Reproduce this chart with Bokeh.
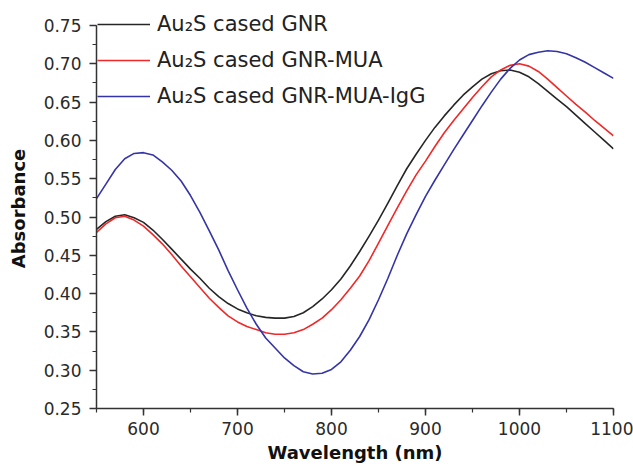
from bokeh.plotting import figure
from bokeh.models import Legend, LegendItem, SingleIntervalTicker, PrintfTickFormatter
from bokeh.embed import file_html
from bokeh.resources import INLINE

wavelength = list(range(550, 1101, 10))

gnr = [0.484, 0.494, 0.501, 0.503, 0.499, 0.493, 0.483, 0.471, 0.458, 0.445,
       0.432, 0.420, 0.407, 0.396, 0.387, 0.380, 0.375, 0.371, 0.369, 0.368,
       0.368, 0.370, 0.375, 0.383, 0.393, 0.405, 0.419, 0.436, 0.455, 0.475,
       0.496, 0.518, 0.541, 0.563, 0.582, 0.600, 0.617, 0.632, 0.646, 0.659,
       0.670, 0.680, 0.687, 0.691, 0.692, 0.689, 0.683, 0.674, 0.664, 0.654,
       0.644, 0.633, 0.622, 0.611, 0.600, 0.589]

gnr_mua = [0.480, 0.491, 0.499, 0.501, 0.496, 0.488, 0.477, 0.465, 0.451, 0.436,
           0.422, 0.408, 0.394, 0.382, 0.371, 0.363, 0.357, 0.353, 0.349, 0.347,
           0.347, 0.349, 0.353, 0.360, 0.368, 0.379, 0.392, 0.407, 0.423, 0.443,
           0.466, 0.489, 0.512, 0.534, 0.555, 0.573, 0.592, 0.610, 0.626, 0.641,
           0.656, 0.670, 0.683, 0.692, 0.698, 0.700, 0.697, 0.690, 0.680, 0.669,
           0.658, 0.647, 0.637, 0.626, 0.616, 0.606]

gnr_mua_igg = [0.524, 0.543, 0.562, 0.576, 0.583, 0.584, 0.581, 0.572, 0.561, 0.547,
               0.528, 0.506, 0.482, 0.457, 0.430, 0.405, 0.381, 0.360, 0.342, 0.329,
               0.316, 0.306, 0.298, 0.295, 0.296, 0.301, 0.311, 0.326, 0.344, 0.366,
               0.392, 0.420, 0.450, 0.478, 0.503, 0.527, 0.548, 0.568, 0.588, 0.607,
               0.626, 0.645, 0.663, 0.680, 0.694, 0.705, 0.712, 0.715, 0.717, 0.716,
               0.713, 0.708, 0.702, 0.695, 0.688, 0.681]

labels = ["Au\u2082S cased GNR", "Au\u2082S cased GNR-MUA", "Au\u2082S cased GNR-MUA-IgG"]
colors = ["#262626", "#f02828", "#3434a8"]

FONT = "DejaVu Sans"

p = figure(width=633, height=467, x_range=(550, 1100), y_range=(0.25, 0.7722),
           output_backend="svg", toolbar_location=None,
           min_border_left=96, min_border_right=20, min_border_top=8, min_border_bottom=59)
p.xgrid.visible = False
p.ygrid.visible = False
p.outline_line_color = None
p.background_fill_color = "white"
p.border_fill_color = "white"

renderers = []
for ys, c in zip([gnr, gnr_mua, gnr_mua_igg], colors):
    r = p.line(wavelength, ys, line_color=c, line_width=1.6, line_join="round")
    renderers.append(r)

p.xaxis.ticker = SingleIntervalTicker(interval=100, num_minor_ticks=2)
p.yaxis.ticker = SingleIntervalTicker(interval=0.05, num_minor_ticks=2)
p.yaxis.formatter = PrintfTickFormatter(format="%.2f")
p.yaxis.bounds = (0.25, 0.75)

for ax in [p.xaxis[0], p.yaxis[0]]:
    ax.axis_line_color = "#333333"
    ax.axis_line_width = 1.5
    ax.major_tick_line_color = "#333333"
    ax.major_tick_line_width = 1.5
    ax.minor_tick_line_color = "#333333"
    ax.minor_tick_line_width = 1.2
    ax.major_tick_out = 7
    ax.major_tick_in = 0
    ax.minor_tick_out = 4
    ax.minor_tick_in = 0
    ax.major_label_text_font = FONT
    ax.major_label_text_font_size = "17px"
    ax.major_label_text_color = "#2a2a2a"
    ax.axis_label_text_font = FONT
    ax.axis_label_text_font_style = "bold"
    ax.axis_label_text_font_size = "18px"
    ax.axis_label_text_color = "#111111"

p.xaxis.axis_label = "Wavelength (nm)"
p.yaxis.axis_label = "Absorbance"
p.xaxis.major_label_standoff = 6
p.xaxis.axis_label_standoff = 4
p.yaxis.major_label_standoff = 8
p.yaxis.axis_label_standoff = 12

legend = Legend(items=[LegendItem(label=l, renderers=[r]) for l, r in zip(labels, renderers)],
                location=(1, 300), border_line_color=None, background_fill_alpha=0,
                label_text_font=FONT, label_text_font_size="21px", label_text_color="#222222",
                glyph_width=53, glyph_height=24, label_height=24, spacing=12,
                padding=0, margin=0, label_standoff=7)
p.add_layout(legend, "center")

open("out.html", "w").write(file_html(p, INLINE))
